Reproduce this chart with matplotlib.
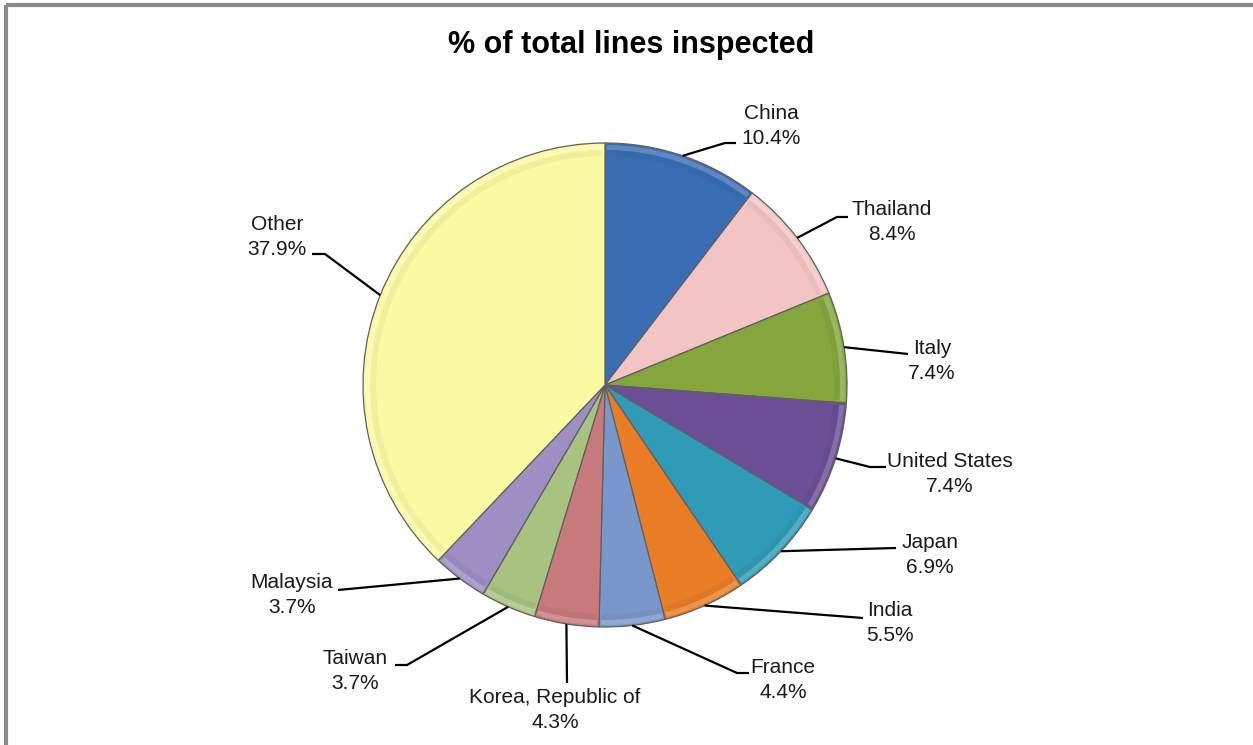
import numpy as np
import matplotlib
matplotlib.use("Agg")
import matplotlib.pyplot as plt
from matplotlib.patches import Wedge

# ---- data ----
countries = ["China", "Thailand", "Italy", "United States", "Japan", "India",
             "France", "Korea, Republic of", "Taiwan", "Malaysia", "Other"]
shares = [10.4, 8.4, 7.4, 7.4, 6.9, 5.5, 4.4, 4.3, 3.7, 3.7, 37.9]
title = "% of total lines inspected"

# ---- style ----
colors = ["#3A6EB4", "#F2C5C4", "#84A63D", "#6D4F97", "#2F9BB6", "#E97C25",
          "#7896C9", "#C8797B", "#A8C37F", "#9D8EC3", "#FAFAA3"]
W, H = 1253, 745
CX, CY, R = 605, 385, 242
# label layout: (text centre x, text centre y, elbow x, elbow y, end x)
layout = [
    (771, 126, 725, 143, 736),
    (892, 222, 837, 217, 848),
    (932, 361, 908, 354, 908),
    (950, 474, 870, 467, 886),
    (930, 555, 896, 548, 896),
    (890, 623, 863, 618, 863),
    (783, 680, 737, 673, 749),
    (555, 710, 567, 683, 567),
    (355, 671, 407, 665, 395),
    (292, 595, 338, 590, 338),
    (277, 237, 325, 254, 312),
]

plt.rcParams['font.family'] = ['Liberation Sans', 'DejaVu Sans']
fig = plt.figure(figsize=(W / 100, H / 100), dpi=100)
ax = fig.add_axes([0, 0, 1, 1])

wedges, _ = ax.pie(shares, colors=colors, startangle=270, counterclock=True,
                   center=(CX, CY), radius=R,
                   wedgeprops=dict(edgecolor="#5f5f5f", linewidth=0.9))

# subtle bevel: light rim and darker inner rim on each wedge
for w, c in zip(wedges, colors):
    rgb = np.array(matplotlib.colors.to_rgb(c))
    light = 1 - (1 - rgb) * 0.6
    dark = rgb * 0.85
    ax.add_patch(Wedge((CX, CY), R - 2, w.theta1 + 0.5, w.theta2 - 0.5,
                       width=5, facecolor=light, edgecolor="none", alpha=0.45))
    ax.add_patch(Wedge((CX, CY), R - 7, w.theta1 + 0.7, w.theta2 - 0.7,
                       width=6, facecolor=dark, edgecolor="none", alpha=0.25))

ax.set_xlim(0, W)
ax.set_ylim(H, 0)
ax.set_aspect("auto")
ax.axis("off")

for w, name, val, (tx, ty, ex, ey, endx) in zip(wedges, countries, shares, layout):
    mid = np.deg2rad((w.theta1 + w.theta2) / 2)
    sx = w.center[0] + w.r * np.cos(mid)
    sy = w.center[1] + w.r * np.sin(mid)
    ax.plot([sx, ex, endx], [sy, ey, ey], color="black", lw=1.6,
            solid_capstyle="butt", zorder=5)
    ax.text(tx, ty, f"{name}\n{val:.1f}%", ha="center", va="center",
            fontsize=15, color="#1a1a1a", linespacing=1.38, zorder=6)

ax.text(631, 45, title, ha="center", va="center", fontsize=22,
        fontweight="bold", color="black")

# outer frame (top and left visible)
ax.plot([6, W], [5, 5], color="#8a8a8a", lw=3, solid_capstyle="butt")
ax.plot([6, 6], [5, H], color="#8a8a8a", lw=3, solid_capstyle="butt")

fig.savefig("out.png", dpi=100)
